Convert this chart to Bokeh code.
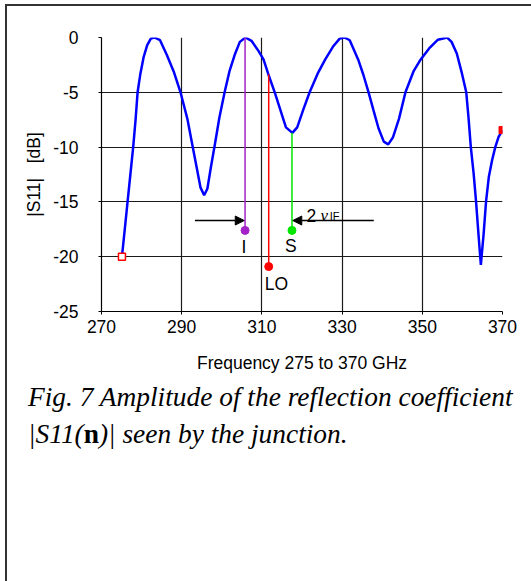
from bokeh.plotting import figure
from bokeh.models import Range1d, FixedTicker, Arrow, NormalHead, Div
from bokeh.layouts import column
from bokeh.embed import file_html
from bokeh.resources import INLINE
from bokeh.core.properties import value

# ---- data ----
freq = [275.1, 275.8, 276.5, 277.2, 277.9, 278.5, 279.0, 279.7, 280.5, 281.4, 282.3, 283.2,
        284.6, 286.3, 288.0, 289.7, 291.4, 292.6, 293.7, 294.7, 295.6, 296.4, 297.3, 298.3,
        299.4, 300.7, 301.9, 303.2, 304.5, 305.9,
        307.4, 309.1, 310.4, 311.6, 313.2, 314.6, 316.0, 317.6, 318.8, 320.3, 321.9, 323.9,
        325.8, 327.7, 329.4, 330.6,
        331.9, 334.0, 335.3, 336.6, 337.8, 339.1, 340.4, 341.5, 342.7, 344.2, 345.8, 347.8,
        349.6, 351.7, 353.9, 356.2,
        357.3, 358.6, 359.9, 360.96, 361.5, 362.1, 362.8, 363.4, 364.0, 364.6, 365.3, 365.9,
        366.6, 367.4, 368.2, 369.0, 370.0]
s11 = [-20.0, -17.5, -15.0, -12.5, -10.0, -7.5, -5.0, -3.3, -1.8, -0.7, -0.1, 0.0,
       -0.25, -1.6, -3.1, -5.0, -7.4, -9.7, -11.8, -13.7, -14.4, -13.8, -11.8, -9.7,
       -7.3, -5.0, -3.1, -1.6, -0.4, 0.0,
       -0.3, -1.2, -2.0, -3.35, -5.0, -6.6, -8.2, -8.7, -8.2, -6.6, -5.0, -3.3,
       -2.0, -0.85, -0.1, 0.0,
       -0.25, -2.0, -3.4, -5.0, -6.6, -8.3, -9.5, -9.75, -9.1, -7.4, -5.0, -3.1,
       -2.0, -1.0, -0.2, 0.0,
       -0.4, -1.46, -3.3, -5.0, -7.2, -10.0, -12.4, -14.95, -17.9, -20.75, -17.9, -14.95,
       -12.7, -11.2, -10.0, -9.1, -8.45]

x_ticks = [270, 290, 310, 330, 350, 370]
x_tick_labels = ["270", "290", "310", "330", "350", "370"]
y_ticks = [-25, -20, -15, -10, -5, 0]
y_tick_labels = ["-25", "-20", "-15", "-10", "-5", "0"]

start_x, start_y = [275.1], [-20.0]
end_x, end_y = [370.0], [-8.45]

mark_names = ["I", "LO", "S"]
mark_x = [305.8, 311.7, 317.5]
mark_top = [0.0, -3.35, -8.7]
mark_bottom = [-17.6, -20.9, -17.6]
mark_colors = ["#a322c8", "#ff0000", "#00e600"]
label_x = [305.5, 313.6, 317.2]
label_y = [-19.1, -22.5, -19.05]

arrow_y = -16.7
arrow1_x = [293.3, 305.6]
arrow2_x = [337.9, 317.7]

nu_text_x = [321.1, 324.6, 326.9]
nu_text_y = -16.26

caption_line1 = "Fig. 7 Amplitude of the reflection coefficient"
caption_line2_pre, caption_line2_bold, caption_line2_post = "|S11(", "n", ")| seen by the junction."

FONT = "Liberation Sans"

p = figure(width=522, height=372, x_range=Range1d(270, 370), y_range=Range1d(-25, 0),
           output_backend="svg", toolbar_location=None,
           min_border_left=94, min_border_right=27, min_border_top=31, min_border_bottom=67,
           background_fill_color="white", border_fill_color="white")
p.outline_line_color = None

for ax, ticks, labels in ((p.xaxis[0], x_ticks, x_tick_labels), (p.yaxis[0], y_ticks, y_tick_labels)):
    ax.ticker = FixedTicker(ticks=ticks)
    ax.major_label_overrides = {t: l for t, l in zip(ticks, labels)}
    ax.major_label_text_font = FONT
    ax.major_label_text_font_size = "17.5px"
    ax.major_label_text_color = "black"
    ax.axis_label_text_font = FONT
    ax.axis_label_text_font_size = "17.5px"
    ax.axis_label_text_font_style = "normal"
    ax.axis_label_text_color = "black"
    ax.axis_line_color = "black"
    ax.axis_line_width = 1.2
    ax.major_tick_line_color = "black"
    ax.major_tick_out = 3
    ax.major_tick_in = 0
    ax.minor_tick_line_color = None

p.xaxis.axis_label = "Frequency 275 to 370 GHz"
p.yaxis.axis_label = "|S11|\u00a0\u00a0\u00a0[dB]"
p.xaxis.major_label_standoff = 5
p.xaxis.axis_label_standoff = 17
p.yaxis.major_label_standoff = 20
p.yaxis.axis_label_standoff = 6

for g in (p.xgrid[0], p.ygrid[0]):
    g.grid_line_color = "#1a1a1a"
    g.grid_line_width = 1.2

p.line(freq, s11, line_color="#0000ff", line_width=2.5)

p.segment(x0=mark_x, y0=mark_top, x1=mark_x, y1=mark_bottom, line_color=mark_colors, line_width=1.5)
p.scatter(mark_x, mark_bottom, size=8, marker="circle", fill_color=mark_colors, line_color=mark_colors)
p.text(label_x, label_y, text=mark_names, text_font=value(FONT), text_font_size="17.5px",
       text_align="center", text_baseline="middle", text_color="black")

p.scatter(start_x, start_y, marker="square", size=7, fill_color="white", line_color="red", line_width=1.5)
p.scatter(end_x, end_y, marker="square", size=7, fill_color="red", line_color="red")

p.add_layout(Arrow(end=NormalHead(size=9, fill_color="black", line_color="black"),
                   x_start=arrow1_x[0], y_start=arrow_y, x_end=arrow1_x[1], y_end=arrow_y,
                   line_color="black", line_width=1.5))
p.add_layout(Arrow(end=NormalHead(size=9, fill_color="black", line_color="black"),
                   x_start=arrow2_x[0], y_start=arrow_y, x_end=arrow2_x[1], y_end=arrow_y,
                   line_color="black", line_width=1.5))

p.text([nu_text_x[0]], [nu_text_y], text=["2"], text_font=value(FONT), text_font_size="17.5px",
       text_baseline="alphabetic", text_align="left", text_color="black")
p.text([nu_text_x[1]], [nu_text_y], text=["\u03bd"], text_font=value("Liberation Serif"),
       text_font_size="17px", text_font_style="italic",
       text_baseline="alphabetic", text_align="left", text_color="black")
p.text([nu_text_x[2]], [nu_text_y], text=["IF"], text_font=value(FONT), text_font_size="11px",
       text_baseline="alphabetic", text_align="left", text_color="black")

caption_html = (
    '<div style="font-family:\'Liberation Serif\',\'Times New Roman\',serif;font-style:italic;'
    'font-size:27.4px;color:#000;padding:0 0 0 16px;white-space:nowrap;margin:0;">'
    f'<div style="line-height:29.3px;">{caption_line1}</div>'
    f'<div style="line-height:44.1px;">{caption_line2_pre}<b style="font-style:normal">'
    f'{caption_line2_bold}</b>{caption_line2_post}</div></div>'
)
cap = Div(text=caption_html, width=522, height=200)

layout = column(p, cap, margin=(4, 0, 0, 5),
                styles={"border-top": "2px solid #333", "border-left": "2px solid #333"})

open("out.html", "w").write(file_html(layout, INLINE))
